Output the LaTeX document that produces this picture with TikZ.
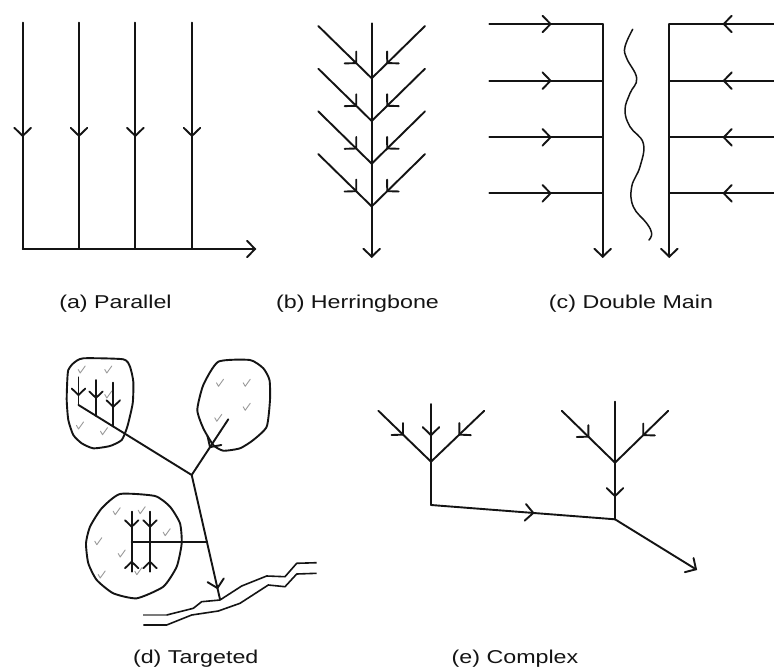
\documentclass[tikz,border=0pt]{standalone}
\usepackage{graphicx}
\usepackage{fontspec}
\setmainfont{Liberation Sans}
\usetikzlibrary{decorations.markings}
\definecolor{ink}{HTML}{141414}
\definecolor{pencil}{HTML}{9A9A9A}
\tikzset{
  flow/.style={draw=ink, line width=1.9pt, line cap=round, line join=round},
  bank/.style={draw=ink, line width=1.6pt, line cap=butt, line join=round},
  rim/.style={draw=ink, line width=1.9pt, line join=round},
  barb/.style={postaction={decorate, decoration={markings,
      mark=at position #1 with {\draw[ink, line width=1.9pt, line cap=round, line join=miter] (-8,-8.3) -- (0,0) -- (-8,8.3);}}}},
  sbarb/.style={postaction={decorate, decoration={markings,
      mark=at position #1 with {\draw[ink, line width=1.8pt, line cap=round, line join=miter] (-6.5,-6.8) -- (0,0) -- (-6.5,6.8);}}}},
  tick/.pic={\draw[pencil, line width=0.9pt, line cap=round, line join=round] (-3.5,-0.5) -- (-1.5,3) -- (3.5,-4);},
  lbl/.style={font=\fontsize{18.6}{22}\selectfont, text=ink, anchor=base, inner sep=0pt},
}
\begin{document}
\begin{tikzpicture}[x=1pt, y=-1pt]
\fill[white] (0,0) rectangle (774,669);
\useasboundingbox (0,0) rectangle (774,669);

% ---------- (a) parallel laterals into one collector ----------
\foreach \i/\x in {1/22.7, 2/79, 3/135.3, 4/192} {
  \coordinate (at\i) at (\x,22.7);
  \coordinate (ab\i) at (\x,249);
  \draw[flow, barb=0.5] (at\i) -- (ab\i);
}
\coordinate (aout) at (255,249);
\draw[flow, barb=1] (ab1) -- (aout);

% ---------- (b) herringbone ----------
\coordinate (btop) at (371.7,23.3);
\coordinate (bout) at (371.7,256.7);
\draw[flow, barb=1] (btop) -- (bout);
\foreach \k in {0,1,2,3} {
  \pgfmathsetmacro\ys{26+42.7*\k}
  \pgfmathsetmacro\yj{78.3+42.7*\k}
  \coordinate (bj\k) at (371.7,\yj);
  \coordinate (bl\k) at (318.3,\ys);
  \coordinate (br\k) at (425,\ys);
  \draw[flow, barb=0.71] (bl\k) -- (bj\k);
  \draw[flow, barb=0.71] (br\k) -- (bj\k);
}

% ---------- (c) double main ----------
\coordinate (cl) at (602.7,24);
\coordinate (clout) at (602.7,256.7);
\coordinate (cr) at (669.3,24);
\coordinate (crout) at (669.3,256.7);
\draw[flow, barb=1] (cl) -- (clout);
\draw[flow, barb=1] (cr) -- (crout);
\foreach \k/\y in {0/24, 1/80.7, 2/137.3, 3/193.3} {
  \coordinate (cls\k) at (489.3,\y);
  \coordinate (clj\k) at (602.7,\y);
  \draw[flow, barb=0.54] (cls\k) -- (clj\k);
  \coordinate (crs\k) at (774,\y);
  \coordinate (crj\k) at (669.3,\y);
  \draw[flow, barb=0.48] (crs\k) -- (crj\k);
}
% divide between the two mains
\draw[ink, line width=1.5pt, line cap=round] plot[smooth, tension=0.7] coordinates {
  (632.7,29.3) (625,46.7) (626.7,58.3) (636.7,78.3) (630,93.3) (625,110)
  (630,126.7) (643.3,143.3) (640,166.7) (631.7,186.7) (633.3,206.7)
  (646.7,223.3) (651.7,233.3) (649,240)};

% ---------- (d) targeted ----------
% wet patches
\draw[rim] plot[smooth cycle, tension=0.35] coordinates {
  (83.3,358.3) (123.3,359.3) (130,366.7) (133.3,381.7) (132.7,403.3)
  (127.3,426.7) (121.7,440) (110,446) (93.3,448.3) (81.7,443.3)
  (73.3,435) (68.3,420) (66.7,400) (67.3,380) (68.3,370) (73.3,363.3)};
\draw[rim] plot[smooth cycle, tension=0.35] coordinates {
  (218.3,361.7) (250,360) (263.3,368.3) (269.5,380) (270,400) (266.7,426.7)
  (253.3,440) (240,448.3) (223.3,450.7) (213.3,445) (203.3,428.3)
  (197.3,410) (203.3,385)};
\draw[rim] plot[smooth cycle, tension=0.35] coordinates {
  (120,494) (155,496) (170,506.7) (180,523.3) (181.7,543.3) (176.7,566.7)
  (163.3,586.7) (136.7,598.3) (113.3,593.3) (96.7,580) (88.3,563.3)
  (86,543.3) (90,526.7) (101.7,508.3)};
% wet spots
\foreach \p in {(81.7,370), (108.3,370), (108.3,395), (80,426), (104,431.7),
                (220,383.3), (246.7,383.3), (246.7,407.3), (218.3,418.3),
                (116.7,511.7), (141.7,510.7), (166.7,532.7), (98.3,541.7),
                (121.7,554), (138.3,571.7), (101.7,575)}
  \pic at \p {tick};
% drains
\coordinate (dj) at (191.7,475);
\coordinate (dc) at (78.5,405);
\coordinate (dout) at (220,599.3);
\draw[flow] (dc) -- (dj);
\coordinate (dt1) at (78.5,377.3);
\coordinate (dt2) at (96,380);   \coordinate (dm2) at (96,415.8);
\coordinate (dt3) at (113.3,382.7); \coordinate (dm3) at (113.3,426.5);
\draw[flow, sbarb=0.64] (dt1) -- (dc);
\draw[flow, sbarb=0.5] (dt2) -- (dm2);
\draw[flow, sbarb=0.55] (dt3) -- (dm3);
\coordinate (dr) at (228.3,419.3);
\draw[flow, barb=0.5] (dr) -- (dj);
\draw[flow, barb=0.91] (dj) -- (dout);
\coordinate (dh0) at (131.7,541.7);
\coordinate (dh1) at (150,541.7);
\coordinate (dh) at (206.8,541.7);
\draw[flow] (dh0) -- (dh);
\foreach \n/\x in {0/131.7, 1/150} {
  \coordinate (du\n) at (\x,511.7);
  \coordinate (dd\n) at (\x,571.7);
  \draw[flow, sbarb=0.5] (du\n) -- (dh\n);
  \draw[flow, sbarb=0.33] (dd\n) -- (dh\n);
}
% stream banks
\draw[pencil!80!black, line width=1.6pt] (143.3,615) -- (166.7,615);
\draw[bank] plot coordinates {(166.7,615) (193.3,608.3) (201.7,601.7) (220,600)
  (241.7,586) (266.7,576) (285,576.7) (296.7,563.3) (316.7,562.7)};
\draw[bank] plot coordinates {(143.3,625) (166.7,625) (191.7,615) (218.3,611)
  (240,603.3) (268.3,585) (285,586.7) (296.7,574) (316.7,573.3)};

% ---------- (e) complex ----------
\coordinate (e1t) at (431,404);
\coordinate (e1j) at (431,461.7);
\coordinate (e1c) at (431,505);
\coordinate (e1l) at (378.3,410.7);
\coordinate (e1r) at (484.3,410.7);
\draw[flow, barb=0.54] (e1t) -- (e1j);
\draw[flow, barb=0.47] (e1l) -- (e1j);
\draw[flow, barb=0.47] (e1r) -- (e1j);
\draw[flow] (e1j) -- (e1c);
\coordinate (e2t) at (615,401.7);
\coordinate (e2j) at (615,462.7);
\coordinate (e2c) at (615,519.3);
\coordinate (e2l) at (561.7,410.7);
\coordinate (e2r) at (668.3,410.7);
\draw[flow] (e2t) -- (e2j);
\draw[flow, barb=0.5] (e2l) -- (e2j);
\draw[flow, barb=0.47] (e2r) -- (e2j);
\draw[flow, barb=0.59] (e2j) -- (e2c);
\draw[flow, barb=0.556] (e1c) -- (e2c);
\coordinate (eout) at (696,569.3);
\draw[flow, barb=1] (e2c) -- (eout);

% ---------- captions ----------
\node[lbl] (la) at (115.5,308.5) {\scalebox{1.25}[1]{(a) Parallel}};
\node[lbl] (lb) at (357.5,308.5) {\scalebox{1.25}[1]{(b) Herringbone}};
\node[lbl] (lc) at (631,308.5) {\scalebox{1.25}[1]{(c) Double Main}};
\node[lbl] (ld) at (195.7,663) {\scalebox{1.25}[1]{(d) Targeted}};
\node[lbl] (le) at (515,663) {\scalebox{1.25}[1]{(e) Complex}};
\end{tikzpicture}
\end{document}
